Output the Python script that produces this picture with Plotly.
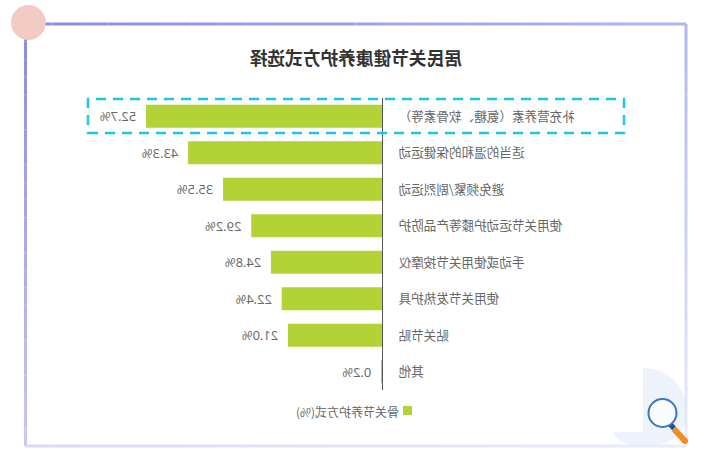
import plotly.graph_objects as go

W, H = 707, 466

categories = [
    "补充营养素（氨糖、软骨素等）",
    "适当的温和的保健运动",
    "避免频繁/剧烈运动",
    "使用关节运动护膝等产品防护",
    "手动或使用关节按摩仪",
    "使用关节发热护具",
    "贴关节贴",
    "其他",
]
shares = [52.7, 43.3, 35.5, 29.2, 24.8, 22.4, 21.0, 0.2]
series_name = "骨关节养护方式(%)"
title_text = "居民关节健康养护方式选择"

BAR = "#b2d235"
CJK = "Noto Sans CJK SC"


# The page is flipped sideways at the end, so page x runs right-to-left here.
def px(x):
    return 1 - x / W


def py(y):
    return 1 - y / H


def line(x0, y0, x1, y1, color, width, dash="solid"):
    return dict(type="line", xref="paper", yref="paper",
                x0=px(x0), y0=py(y0), x1=px(x1), y1=py(y1),
                line=dict(color=color, width=width, dash=dash))


def ellipse(cx, cy, r, fill, stroke=None, width=0):
    return dict(type="circle", xref="paper", yref="paper",
                x0=px(cx - r), x1=px(cx + r), y0=py(cy + r), y1=py(cy - r),
                fillcolor=fill, line=dict(color=stroke or fill, width=width))


def mix(c0, c1, t):
    return "rgb({},{},{})".format(*[round(a + (b - a) * t) for a, b in zip(c0, c1)])


def fading_line(x0, y0, x1, y1, c0, c1, steps=24):
    out = []
    for i in range(steps):
        a, b = i / steps, (i + 1) / steps
        out.append(line(x0 + (x1 - x0) * a, y0 + (y1 - y0) * a,
                        x0 + (x1 - x0) * b, y0 + (y1 - y0) * b,
                        mix(c0, c1, (a + b) / 2), 3))
    return out


def path(points):
    cmds = []
    for item in points:
        letter, coords = item[0], item[1:]
        mapped = []
        for i in range(0, len(coords), 2):
            mapped.append(f"{px(coords[i]):.5f},{py(coords[i + 1]):.5f}")
        cmds.append(letter + " ".join(mapped))
    return " ".join(cmds) + " Z"


PURPLE = (138, 138, 224)
MID = (176, 182, 236)
PALE = (216, 218, 244)
FAINT = (232, 236, 250)

shapes = []
# Corner badge behind the magnifier
shapes.append(dict(type="path", xref="paper", yref="paper", layer="below",
                   path=path([("M", 643, 368), ("C", 670, 368, 687, 390, 687, 412),
                              ("C", 687, 432, 670, 447, 643, 447),
                              ("C", 630, 447, 618, 442, 613, 432), ("L", 643, 432)]),
                   fillcolor="#eef2fb", line=dict(width=0)))
# Card outline
shapes += fading_line(25.5, 24, 25.5, 446, PURPLE, (200, 200, 240))
shapes += fading_line(25, 24, 686, 24, PURPLE, MID)
shapes += fading_line(686, 24, 686, 446, MID, FAINT)
shapes += fading_line(25, 446, 686, 446, PALE, FAINT)
# Pink corner dot
shapes.append(ellipse(28.4, 22.5, 17.5, "#f3cbc3"))
# Highlight around the leading row
shapes.append(dict(type="rect", xref="paper", yref="paper",
                   x0=px(88), x1=px(624), y0=py(133), y1=py(99),
                   line=dict(color="#1fc4ea", width=2.5, dash="10px,7px")))
# Legend swatch
shapes.append(dict(type="rect", xref="paper", yref="paper",
                   x0=px(403), x1=px(412), y0=py(415), y1=py(406),
                   fillcolor=BAR, line=dict(width=0)))
# Magnifier
shapes.append(line(674, 429, 685, 441, "#f28c1e", 6))
shapes.append(ellipse(685, 441, 3, "#f28c1e"))
shapes.append(line(670, 424, 674, 428.5, "#1f4e9e", 5))
shapes.append(ellipse(662.5, 413, 14, "#fafcff", "#3a76b8", 2))

axis_x = W - 382
unit = 236 / 52.7  # pixels per percentage point
x_max = 65

fig = go.Figure(go.Bar(
    x=shares, y=categories, orientation="h", name=series_name,
    marker=dict(color=BAR, line=dict(width=0)),
    width=0.63,
    texttemplate="\u00a0\u00a0%{x:.1f}%", textposition="outside", cliponaxis=False,
    textfont=dict(family="Open Sans", size=13, color="#666666"),
    hoverinfo="skip",
))

fig.update_layout(
    width=W, height=H, margin=dict(l=0, r=0, t=0, b=0),
    paper_bgcolor="white", plot_bgcolor="rgba(0,0,0,0)",
    showlegend=False, shapes=shapes,
    xaxis=dict(domain=[axis_x / W, (axis_x + x_max * unit) / W], range=[0, x_max],
               visible=False, fixedrange=True),
    yaxis=dict(domain=[py(390), py(98)], autorange="reversed", showline=True,
               linecolor="#555555", linewidth=1, ticks="", showgrid=False,
               ticklabelstandoff=13, fixedrange=True,
               tickfont=dict(family=CJK, size=12.6, color="#666666")),
    annotations=[
        dict(text=f"<b>{title_text}</b>", xref="paper", yref="paper",
             x=px(356), y=py(57), xanchor="center", yanchor="middle", showarrow=False,
             font=dict(family=CJK, size=17.7, color="#333333")),
        dict(text=series_name, xref="paper", yref="paper",
             x=px(401), y=py(411), xanchor="left", yanchor="middle", showarrow=False,
             xshift=0, font=dict(family=CJK, size=12, color="#666666")),
    ],
)

fig.write_html(
    "out.html",
    config=dict(displayModeBar=False, responsive=False),
    default_width=f"{W}px", default_height=f"{H}px",
    post_script="var g=document.getElementById('{plot_id}');"
                "g.style.transform='scaleX(-1)';g.style.transformOrigin='center center';",
)
